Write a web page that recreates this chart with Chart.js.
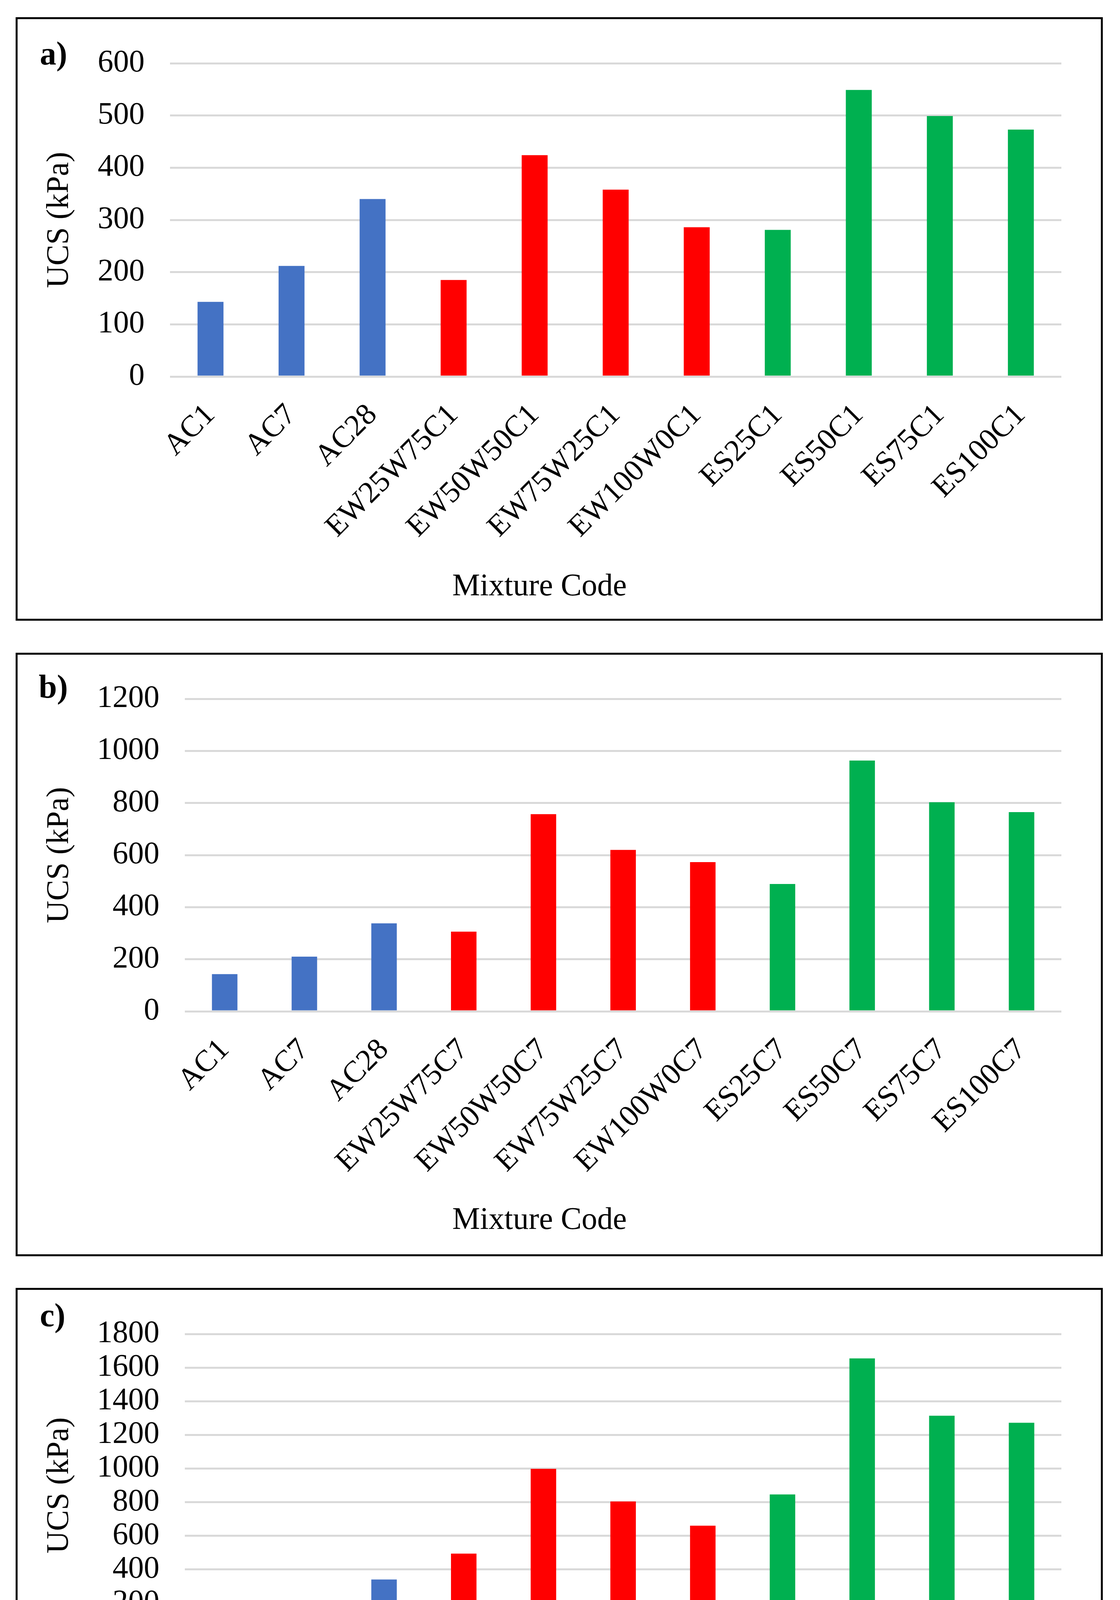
<!DOCTYPE html>
<html>
<head>
<meta charset="utf-8">
<script src="https://cdn.jsdelivr.net/npm/chart.js@4/dist/chart.umd.min.js"></script>
<style>
  html, body { margin: 0; padding: 0; background: #fff; }
  body { width: 2866px; height: 4881px; position: relative; overflow: hidden; }
  .panel { position: absolute; left: 40px; width: 2772px; height: 1535px; border: 5px solid #000; background: #fff; }
  canvas { display: block; }
</style>
</head>
<body>
<div class="panel" id="pa" style="top:44px"><canvas id="ca" width="2772" height="1535"></canvas></div>
<div class="panel" id="pb" style="top:1671px"><canvas id="cb" width="2772" height="1535"></canvas></div>
<div class="panel" id="pc" style="top:3297px"><canvas id="cc" width="2772" height="1535"></canvas></div>
<script>
// ---- Data ----
const categoriesA = ['AC1','AC7','AC28','EW25W75C1','EW50W50C1','EW75W25C1','EW100W0C1','ES25C1','ES50C1','ES75C1','ES100C1'];
const valuesA = [143, 212, 340, 185, 424, 358, 286, 281, 549, 499, 473];

const categoriesB = ['AC1','AC7','AC28','EW25W75C7','EW50W50C7','EW75W25C7','EW100W0C7','ES25C7','ES50C7','ES75C7','ES100C7'];
const valuesB = [143, 210, 338, 306, 757, 620, 573, 489, 963, 803, 765];

const categoriesC = ['AC1','AC7','AC28','EW25W75C28','EW50W50C28','EW75W25C28','EW100W0C28','ES25C28','ES50C28','ES75C28','ES100C28'];
const valuesC = [142, 210, 340, 494, 998, 804, 660, 846, 1655, 1314, 1272];

const groupOfBar = ['A','A','A','EW','EW','EW','EW','ES','ES','ES','ES'];
const groupColors = { A: '#4472C4', EW: '#FF0000', ES: '#00B050' };

const yMaxA = 600, yStepA = 100;
const yMaxB = 1200, yStepB = 200;
const yMaxC = 1800, yStepC = 200;

const panelLetters = ['a)', 'b)', 'c)'];
const yTitle = 'UCS (kPa)';
const xTitle = 'Mixture Code';

// ---- Styling ----
const FONT = "'Liberation Serif', 'Times New Roman', serif";
Chart.defaults.font.family = FONT;
Chart.defaults.color = '#000';

function makeChart(canvasId, cats, vals, yMax, yStep, letter, L) {
  const letterPlugin = {
    id: 'letter_' + canvasId,
    afterDraw(chart) {
      const ctx = chart.ctx;
      ctx.save();
      ctx.font = 'bold 84px ' + FONT;
      ctx.fillStyle = '#000';
      ctx.textAlign = 'left';
      ctx.textBaseline = 'alphabetic';
      ctx.fillText(letter, L.letterX, L.letterY);
      ctx.restore();
    }
  };
  return new Chart(document.getElementById(canvasId), {
    type: 'bar',
    data: {
      labels: cats,
      datasets: [{
        data: vals,
        backgroundColor: groupOfBar.map(g => groupColors[g]),
        borderWidth: 0,
        categoryPercentage: 1.0,
        barPercentage: 0.32
      }]
    },
    plugins: [letterPlugin],
    options: {
      responsive: false,
      animation: false,
      devicePixelRatio: 1,
      layout: { padding: { top: L.top, right: 101, left: 0, bottom: 0 } },
      plugins: {
        legend: { display: false },
        tooltip: { enabled: false },
        title: {
          display: true,
          text: xTitle,
          position: 'bottom',
          font: { size: 80, weight: 'normal', lineHeight: 1.2 },
          padding: { top: 0, bottom: L.titlePad },
          color: '#000'
        }
      },
      scales: {
        x: {
          grid: { display: false },
          border: { display: false },
          ticks: {
            font: { size: 78 },
            color: '#000',
            minRotation: 45,
            maxRotation: 45,
            autoSkip: false,
            padding: 45
          },
          afterFit(scale) { scale.height = L.xHeight; }
        },
        y: {
          min: 0,
          max: yMax,
          grid: { color: '#D9D9D9', lineWidth: 5, drawTicks: false },
          border: { display: false },
          ticks: {
            stepSize: yStep,
            autoSkip: false,
            font: { size: 80 },
            color: '#000',
            padding: 65,
            callback: (v) => String(v)
          },
          title: {
            display: true,
            text: yTitle,
            font: { size: 80, lineHeight: 1.2 },
            color: '#000',
            padding: { top: 60, bottom: 0 }
          },
          afterFit(scale) { scale.width = L.left; }
        }
      }
    }
  });
}

makeChart('ca', categoriesA, valuesA, yMaxA, yStepA, panelLetters[0],
  { left: 390, top: 89, xHeight: 491, titlePad: 33, letterX: 57, letterY: 116 });
makeChart('cb', categoriesB, valuesB, yMaxB, yStepB, panelLetters[1],
  { left: 428, top: 88, xHeight: 488, titlePad: 38, letterX: 54, letterY: 110 });
makeChart('cc', categoriesC, valuesC, yMaxC, yStepC, panelLetters[2],
  { left: 428, top: 89, xHeight: 521, titlePad: 30, letterX: 57, letterY: 93 });
</script>
</body>
</html>
